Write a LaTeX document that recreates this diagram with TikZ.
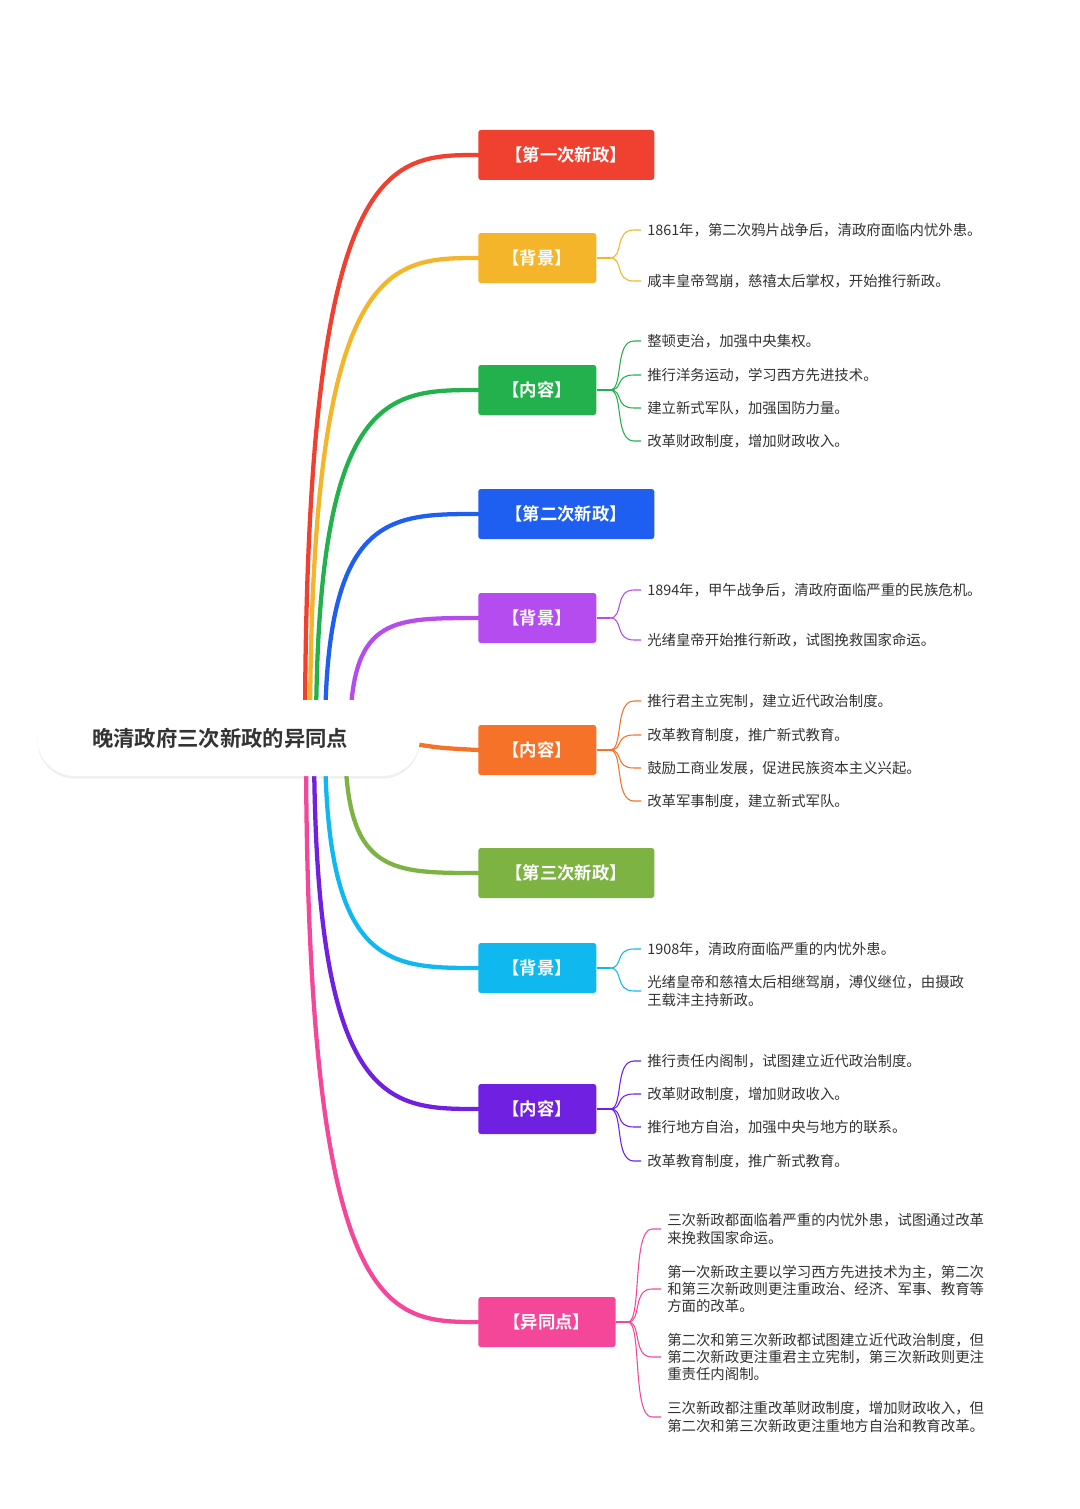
\documentclass[tikz,border=0pt]{standalone}
\usepackage{fontspec}
\setmainfont{Noto Sans CJK SC}[BoldFont={Noto Sans CJK SC Bold}]
\usetikzlibrary{positioning, shadows, calc}
\definecolor{cRed}{HTML}{F04030}
\definecolor{cYel}{HTML}{F5B52A}
\definecolor{cGrn}{HTML}{22B14C}
\definecolor{cBlu}{HTML}{1E5EF0}
\definecolor{cPur}{HTML}{B54CF0}
\definecolor{cOra}{HTML}{F57228}
\definecolor{cOli}{HTML}{7CB342}
\definecolor{cCya}{HTML}{10B8F0}
\definecolor{cVio}{HTML}{7020E0}
\definecolor{cPin}{HTML}{F5479A}
\definecolor{leaftext}{HTML}{333333}
\tikzset{
    topic/.style={rectangle, rounded corners=2pt, minimum height=37.5pt, text=white,
      font=\fontsize{13pt}{15pt}\selectfont\bfseries, inner sep=0pt},
    wide/.style={topic, minimum width=132pt},
    narrow/.style={topic, minimum width=88.5pt},
    leaf/.style={anchor=west, align=left, text=leaftext, inner sep=0pt,
      font=\fontsize{10.8pt}{13pt}\selectfont},
    branch/.style={line width=3.2pt, line cap=round},
    twig/.style={line width=0.8pt},
}

\begin{document}
\begin{tikzpicture}[x=0.75pt, y=-0.75pt]
    \useasboundingbox[fill=white] (0,0) rectangle (1080,1509);

    % topics
    \node[wide, fill=cRed, anchor=west] (t1) at (478,155) {【第一次新政】};
    \node[narrow, fill=cYel, anchor=west] (b1) at (478,258) {【背景】};
    \node[narrow, fill=cGrn, anchor=west] (c1) at (478,390) {【内容】};
    \node[wide, fill=cBlu, anchor=west] (t2) at (478,514) {【第二次新政】};
    \node[narrow, fill=cPur, anchor=west] (b2) at (478,618) {【背景】};
    \node[narrow, fill=cOra, anchor=west] (c2) at (478,750) {【内容】};
    \node[wide, fill=cOli, anchor=west] (t3) at (478,873) {【第三次新政】};
    \node[narrow, fill=cCya, anchor=west] (b3) at (478,968) {【背景】};
    \node[narrow, fill=cVio, anchor=west] (c3) at (478,1109) {【内容】};
    \node[topic, minimum width=103pt, fill=cPin, anchor=west] (d) at (478,1322) {【异同点】};

    % branches from root
    \foreach \n/\c/\sx in {t1/cRed/305, b1/cYel/310, c1/cGrn/316, t2/cBlu/325,
        b2/cPur/350, t3/cOli/345, b3/cCya/325, c3/cVio/314, d/cPin/306} {
      \coordinate (s\n) at (\sx,738);
      \draw[branch, \c] (s\n) .. controls (\sx,0 |- \n.west) and ($(\n.west)+(-90,0)$) .. (\n.west);
    }
    \coordinate (sc2) at (408,743);
    \draw[branch, cOra] (sc2) .. controls (440,748) .. (c2.west);

    % root
    \node[rectangle, rounded corners=28.5pt, fill=white, minimum width=287pt, minimum height=57pt,
      drop shadow={opacity=0.12, shadow xshift=0pt, shadow yshift=-2pt}, anchor=west] (r) at (37,738) {};
    \node[font=\fontsize{16pt}{18pt}\selectfont\bfseries, text=leaftext] (rt) at (220,738) {晚清政府三次新政的异同点};

    % leaves
    \node[leaf] (b1a) at (647,230) {1861年，第二次鸦片战争后，清政府面临内忧外患。};
    \node[leaf] (b1b) at (647,281) {咸丰皇帝驾崩，慈禧太后掌权，开始推行新政。};
    \node[leaf] (c1a) at (647,341) {整顿吏治，加强中央集权。};
    \node[leaf] (c1b) at (647,375) {推行洋务运动，学习西方先进技术。};
    \node[leaf] (c1c) at (647,408) {建立新式军队，加强国防力量。};
    \node[leaf] (c1d) at (647,441) {改革财政制度，增加财政收入。};
    \node[leaf] (b2a) at (647,590) {1894年，甲午战争后，清政府面临严重的民族危机。};
    \node[leaf] (b2b) at (647,640) {光绪皇帝开始推行新政，试图挽救国家命运。};
    \node[leaf] (c2a) at (647,701) {推行君主立宪制，建立近代政治制度。};
    \node[leaf] (c2b) at (647,735) {改革教育制度，推广新式教育。};
    \node[leaf] (c2c) at (647,768) {鼓励工商业发展，促进民族资本主义兴起。};
    \node[leaf] (c2d) at (647,801) {改革军事制度，建立新式军队。};
    \node[leaf] (b3a) at (647,949) {1908年，清政府面临严重的内忧外患。};
    \node[leaf] (b3b) at (647,991) {光绪皇帝和慈禧太后相继驾崩，溥仪继位，由摄政\\王载沣主持新政。};
    \node[leaf] (c3a) at (647,1061) {推行责任内阁制，试图建立近代政治制度。};
    \node[leaf] (c3b) at (647,1094) {改革财政制度，增加财政收入。};
    \node[leaf] (c3c) at (647,1127) {推行地方自治，加强中央与地方的联系。};
    \node[leaf] (c3d) at (647,1161) {改革教育制度，推广新式教育。};
    \node[leaf] (da) at (667,1229) {三次新政都面临着严重的内忧外患，试图通过改革\\来挽救国家命运。};
    \node[leaf] (db) at (667,1289) {第一次新政主要以学习西方先进技术为主，第二次\\和第三次新政则更注重政治、经济、军事、教育等\\方面的改革。};
    \node[leaf] (dc) at (667,1357) {第二次和第三次新政都试图建立近代政治制度，但\\第二次新政更注重君主立宪制，第三次新政则更注\\重责任内阁制。};
    \node[leaf] (dd) at (667,1417) {三次新政都注重改革财政制度，增加财政收入，但\\第二次和第三次新政更注重地方自治和教育改革。};

    % twigs
    \foreach \p/\c/\ls/\fx in {b1/cYel/{b1a,b1b}/610, c1/cGrn/{c1a,c1b,c1c,c1d}/610,
        b2/cPur/{b2a,b2b}/610, c2/cOra/{c2a,c2b,c2c,c2d}/610, b3/cCya/{b3a,b3b}/610,
        c3/cVio/{c3a,c3b,c3c,c3d}/610, d/cPin/{da,db,dc,dd}/628} {
      \coordinate (f\p) at (\fx,0 |- \p.east);
      \draw[twig, \c] (\p.east) -- (f\p);
      \foreach \l in \ls {
        \draw[twig, \c] (f\p) .. controls ($(f\p)+(14,0)$) and ($(f\p |- \l.west)+(4,0)$)
          .. ($(f\p |- \l.west)+(24,0)$) -- ($(\l.west)+(-6,0)$);
      }
    }
\end{tikzpicture}
\end{document}
